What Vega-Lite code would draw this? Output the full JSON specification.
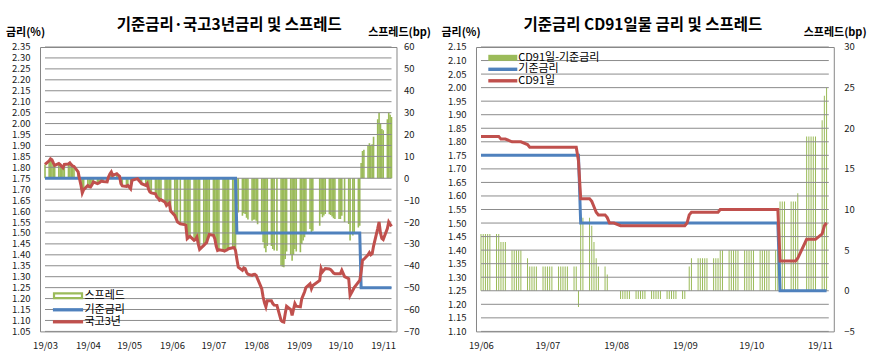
{
 "$schema": "https://vega.github.io/schema/vega-lite/v6.json",
 "autosize": {"type": "pad"},
 "padding": {"left": 5, "top": 18, "right": 2, "bottom": 2},
 "background": "white",
 "spacing": 79,
 "bounds": "flush",
 "datasets": {
  "GL": [
   {"g":1.05,"d":"2019-03-01"},{"g":1.05,"d":"2019-11-07"},{"g":1.1,"d":"2019-03-01"},{"g":1.1,"d":"2019-11-07"},{"g":1.15,"d":"2019-03-01"},{"g":1.15,"d":"2019-11-07"},
   {"g":1.2,"d":"2019-03-01"},{"g":1.2,"d":"2019-11-07"},{"g":1.25,"d":"2019-03-01"},{"g":1.25,"d":"2019-11-07"},{"g":1.3,"d":"2019-03-01"},{"g":1.3,"d":"2019-11-07"},
   {"g":1.35,"d":"2019-03-01"},{"g":1.35,"d":"2019-11-07"},{"g":1.4,"d":"2019-03-01"},{"g":1.4,"d":"2019-11-07"},{"g":1.45,"d":"2019-03-01"},{"g":1.45,"d":"2019-11-07"},
   {"g":1.5,"d":"2019-03-01"},{"g":1.5,"d":"2019-11-07"},{"g":1.55,"d":"2019-03-01"},{"g":1.55,"d":"2019-11-07"},{"g":1.6,"d":"2019-03-01"},{"g":1.6,"d":"2019-11-07"},
   {"g":1.65,"d":"2019-03-01"},{"g":1.65,"d":"2019-11-07"},{"g":1.7,"d":"2019-03-01"},{"g":1.7,"d":"2019-11-07"},{"g":1.75,"d":"2019-03-01"},{"g":1.75,"d":"2019-11-07"},
   {"g":1.8,"d":"2019-03-01"},{"g":1.8,"d":"2019-11-07"},{"g":1.85,"d":"2019-03-01"},{"g":1.85,"d":"2019-11-07"},{"g":1.9,"d":"2019-03-01"},{"g":1.9,"d":"2019-11-07"},
   {"g":1.95,"d":"2019-03-01"},{"g":1.95,"d":"2019-11-07"},{"g":2.0,"d":"2019-03-01"},{"g":2.0,"d":"2019-11-07"},{"g":2.05,"d":"2019-03-01"},{"g":2.05,"d":"2019-11-07"},
   {"g":2.1,"d":"2019-03-01"},{"g":2.1,"d":"2019-11-07"},{"g":2.15,"d":"2019-03-01"},{"g":2.15,"d":"2019-11-07"},{"g":2.2,"d":"2019-03-01"},{"g":2.2,"d":"2019-11-07"},
   {"g":2.25,"d":"2019-03-01"},{"g":2.25,"d":"2019-11-07"},{"g":2.3,"d":"2019-03-01"},{"g":2.3,"d":"2019-11-07"},{"g":2.35,"d":"2019-03-01"},{"g":2.35,"d":"2019-11-07"}
  ],
  "GR": [
   {"g":1.1,"d":"2019-06-03"},{"g":1.1,"d":"2019-11-07"},{"g":1.15,"d":"2019-06-03"},{"g":1.15,"d":"2019-11-07"},{"g":1.2,"d":"2019-06-03"},{"g":1.2,"d":"2019-11-07"},
   {"g":1.25,"d":"2019-06-03"},{"g":1.25,"d":"2019-11-07"},{"g":1.3,"d":"2019-06-03"},{"g":1.3,"d":"2019-11-07"},{"g":1.35,"d":"2019-06-03"},{"g":1.35,"d":"2019-11-07"},
   {"g":1.4,"d":"2019-06-03"},{"g":1.4,"d":"2019-11-07"},{"g":1.45,"d":"2019-06-03"},{"g":1.45,"d":"2019-11-07"},{"g":1.5,"d":"2019-06-03"},{"g":1.5,"d":"2019-11-07"},
   {"g":1.55,"d":"2019-06-03"},{"g":1.55,"d":"2019-11-07"},{"g":1.6,"d":"2019-06-03"},{"g":1.6,"d":"2019-11-07"},{"g":1.65,"d":"2019-06-03"},{"g":1.65,"d":"2019-11-07"},
   {"g":1.7,"d":"2019-06-03"},{"g":1.7,"d":"2019-11-07"},{"g":1.75,"d":"2019-06-03"},{"g":1.75,"d":"2019-11-07"},{"g":1.8,"d":"2019-06-03"},{"g":1.8,"d":"2019-11-07"},
   {"g":1.85,"d":"2019-06-03"},{"g":1.85,"d":"2019-11-07"},{"g":1.9,"d":"2019-06-03"},{"g":1.9,"d":"2019-11-07"},{"g":1.95,"d":"2019-06-03"},{"g":1.95,"d":"2019-11-07"},
   {"g":2.0,"d":"2019-06-03"},{"g":2.0,"d":"2019-11-07"},{"g":2.05,"d":"2019-06-03"},{"g":2.05,"d":"2019-11-07"},{"g":2.1,"d":"2019-06-03"},{"g":2.1,"d":"2019-11-07"},
   {"g":2.15,"d":"2019-06-03"},{"g":2.15,"d":"2019-11-07"}
  ],
  "L": [
   {"date":"2019-03-01","base":1.75,"ktb":1.813,"spread":6.3},
   {"date":"2019-03-04","base":1.75,"ktb":1.830,"spread":8.0},
   {"date":"2019-03-05","base":1.75,"ktb":1.839,"spread":8.9},
   {"date":"2019-03-06","base":1.75,"ktb":1.835,"spread":8.5},
   {"date":"2019-03-07","base":1.75,"ktb":1.820,"spread":7.0},
   {"date":"2019-03-08","base":1.75,"ktb":1.809,"spread":5.9},
   {"date":"2019-03-11","base":1.75,"ktb":1.817,"spread":6.7},
   {"date":"2019-03-12","base":1.75,"ktb":1.812,"spread":6.2},
   {"date":"2019-03-13","base":1.75,"ktb":1.805,"spread":5.5},
   {"date":"2019-03-14","base":1.75,"ktb":1.798,"spread":4.8},
   {"date":"2019-03-15","base":1.75,"ktb":1.813,"spread":6.3},
   {"date":"2019-03-18","base":1.75,"ktb":1.815,"spread":6.5},
   {"date":"2019-03-19","base":1.75,"ktb":1.820,"spread":7.0},
   {"date":"2019-03-20","base":1.75,"ktb":1.812,"spread":6.2},
   {"date":"2019-03-21","base":1.75,"ktb":1.806,"spread":5.6},
   {"date":"2019-03-22","base":1.75,"ktb":1.804,"spread":5.4},
   {"date":"2019-03-25","base":1.75,"ktb":1.779,"spread":2.9},
   {"date":"2019-03-26","base":1.75,"ktb":1.748,"spread":-0.2},
   {"date":"2019-03-27","base":1.75,"ktb":1.720,"spread":-3.0},
   {"date":"2019-03-28","base":1.75,"ktb":1.683,"spread":-6.7},
   {"date":"2019-03-29","base":1.75,"ktb":1.698,"spread":-5.2},
   {"date":"2019-04-01","base":1.75,"ktb":1.717,"spread":-3.3},
   {"date":"2019-04-02","base":1.75,"ktb":1.712,"spread":-3.8},
   {"date":"2019-04-03","base":1.75,"ktb":1.710,"spread":-4.0},
   {"date":"2019-04-04","base":1.75,"ktb":1.720,"spread":-3.0},
   {"date":"2019-04-05","base":1.75,"ktb":1.733,"spread":-1.7},
   {"date":"2019-04-08","base":1.75,"ktb":1.725,"spread":-2.5},
   {"date":"2019-04-09","base":1.75,"ktb":1.728,"spread":-2.2},
   {"date":"2019-04-10","base":1.75,"ktb":1.733,"spread":-1.7},
   {"date":"2019-04-11","base":1.75,"ktb":1.737,"spread":-1.3},
   {"date":"2019-04-12","base":1.75,"ktb":1.735,"spread":-1.5},
   {"date":"2019-04-15","base":1.75,"ktb":1.733,"spread":-1.7},
   {"date":"2019-04-16","base":1.75,"ktb":1.756,"spread":0.6},
   {"date":"2019-04-17","base":1.75,"ktb":1.770,"spread":2.0},
   {"date":"2019-04-18","base":1.75,"ktb":1.779,"spread":2.9},
   {"date":"2019-04-19","base":1.75,"ktb":1.763,"spread":1.3},
   {"date":"2019-04-22","base":1.75,"ktb":1.771,"spread":2.1},
   {"date":"2019-04-23","base":1.75,"ktb":1.765,"spread":1.5},
   {"date":"2019-04-24","base":1.75,"ktb":1.759,"spread":0.9},
   {"date":"2019-04-25","base":1.75,"ktb":1.725,"spread":-2.5},
   {"date":"2019-04-26","base":1.75,"ktb":1.715,"spread":-3.5},
   {"date":"2019-04-29","base":1.75,"ktb":1.713,"spread":-3.7},
   {"date":"2019-04-30","base":1.75,"ktb":1.717,"spread":-3.3},
   {"date":"2019-05-02","base":1.75,"ktb":1.702,"spread":-4.8},
   {"date":"2019-05-03","base":1.75,"ktb":1.740,"spread":-1.0},
   {"date":"2019-05-07","base":1.75,"ktb":1.748,"spread":-0.2},
   {"date":"2019-05-08","base":1.75,"ktb":1.740,"spread":-1.0},
   {"date":"2019-05-09","base":1.75,"ktb":1.733,"spread":-1.7},
   {"date":"2019-05-10","base":1.75,"ktb":1.725,"spread":-2.5},
   {"date":"2019-05-13","base":1.75,"ktb":1.717,"spread":-3.3},
   {"date":"2019-05-14","base":1.75,"ktb":1.725,"spread":-2.5},
   {"date":"2019-05-15","base":1.75,"ktb":1.700,"spread":-5.0},
   {"date":"2019-05-16","base":1.75,"ktb":1.687,"spread":-6.3},
   {"date":"2019-05-17","base":1.75,"ktb":1.683,"spread":-6.7},
   {"date":"2019-05-20","base":1.75,"ktb":1.679,"spread":-7.1},
   {"date":"2019-05-21","base":1.75,"ktb":1.664,"spread":-8.6},
   {"date":"2019-05-22","base":1.75,"ktb":1.660,"spread":-9.0},
   {"date":"2019-05-23","base":1.75,"ktb":1.649,"spread":-10.1},
   {"date":"2019-05-24","base":1.75,"ktb":1.652,"spread":-9.8},
   {"date":"2019-05-27","base":1.75,"ktb":1.640,"spread":-11.0},
   {"date":"2019-05-28","base":1.75,"ktb":1.626,"spread":-12.4},
   {"date":"2019-05-29","base":1.75,"ktb":1.632,"spread":-11.8},
   {"date":"2019-05-30","base":1.75,"ktb":1.637,"spread":-11.3},
   {"date":"2019-05-31","base":1.75,"ktb":1.600,"spread":-15.0},
   {"date":"2019-06-03","base":1.75,"ktb":1.580,"spread":-17.0},
   {"date":"2019-06-04","base":1.75,"ktb":1.565,"spread":-18.5},
   {"date":"2019-06-05","base":1.75,"ktb":1.550,"spread":-20.0},
   {"date":"2019-06-07","base":1.75,"ktb":1.542,"spread":-20.8},
   {"date":"2019-06-10","base":1.75,"ktb":1.538,"spread":-21.2},
   {"date":"2019-06-11","base":1.75,"ktb":1.535,"spread":-21.5},
   {"date":"2019-06-12","base":1.75,"ktb":1.474,"spread":-27.6},
   {"date":"2019-06-13","base":1.75,"ktb":1.480,"spread":-27.0},
   {"date":"2019-06-14","base":1.75,"ktb":1.484,"spread":-26.6},
   {"date":"2019-06-17","base":1.75,"ktb":1.466,"spread":-28.4},
   {"date":"2019-06-18","base":1.75,"ktb":1.470,"spread":-28.0},
   {"date":"2019-06-19","base":1.75,"ktb":1.481,"spread":-26.9},
   {"date":"2019-06-20","base":1.75,"ktb":1.450,"spread":-30.0},
   {"date":"2019-06-21","base":1.75,"ktb":1.425,"spread":-32.5},
   {"date":"2019-06-24","base":1.75,"ktb":1.443,"spread":-30.7},
   {"date":"2019-06-25","base":1.75,"ktb":1.450,"spread":-30.0},
   {"date":"2019-06-26","base":1.75,"ktb":1.455,"spread":-29.5},
   {"date":"2019-06-27","base":1.75,"ktb":1.475,"spread":-27.5},
   {"date":"2019-06-28","base":1.75,"ktb":1.493,"spread":-25.7},
   {"date":"2019-07-01","base":1.75,"ktb":1.489,"spread":-26.1},
   {"date":"2019-07-02","base":1.75,"ktb":1.474,"spread":-27.6},
   {"date":"2019-07-03","base":1.75,"ktb":1.440,"spread":-31.0},
   {"date":"2019-07-04","base":1.75,"ktb":1.420,"spread":-33.0},
   {"date":"2019-07-05","base":1.75,"ktb":1.423,"spread":-32.7},
   {"date":"2019-07-08","base":1.75,"ktb":1.420,"spread":-33.0},
   {"date":"2019-07-09","base":1.75,"ktb":1.417,"spread":-33.3},
   {"date":"2019-07-10","base":1.75,"ktb":1.420,"spread":-33.0},
   {"date":"2019-07-11","base":1.75,"ktb":1.423,"spread":-32.7},
   {"date":"2019-07-12","base":1.75,"ktb":1.428,"spread":-32.2},
   {"date":"2019-07-15","base":1.75,"ktb":1.432,"spread":-31.8},
   {"date":"2019-07-16","base":1.75,"ktb":1.433,"spread":-31.7},
   {"date":"2019-07-17","base":1.75,"ktb":1.420,"spread":-33.0},
   {"date":"2019-07-18","base":1.50,"ktb":1.380,"spread":-12.0},
   {"date":"2019-07-19","base":1.50,"ktb":1.344,"spread":-15.6},
   {"date":"2019-07-22","base":1.50,"ktb":1.329,"spread":-17.1},
   {"date":"2019-07-23","base":1.50,"ktb":1.340,"spread":-16.0},
   {"date":"2019-07-24","base":1.50,"ktb":1.337,"spread":-16.3},
   {"date":"2019-07-25","base":1.50,"ktb":1.320,"spread":-18.0},
   {"date":"2019-07-26","base":1.50,"ktb":1.311,"spread":-18.9},
   {"date":"2019-07-29","base":1.50,"ktb":1.306,"spread":-19.4},
   {"date":"2019-07-30","base":1.50,"ktb":1.310,"spread":-19.0},
   {"date":"2019-07-31","base":1.50,"ktb":1.311,"spread":-18.9},
   {"date":"2019-08-01","base":1.50,"ktb":1.306,"spread":-19.4},
   {"date":"2019-08-02","base":1.50,"ktb":1.290,"spread":-21.0},
   {"date":"2019-08-05","base":1.50,"ktb":1.245,"spread":-25.5},
   {"date":"2019-08-06","base":1.50,"ktb":1.207,"spread":-29.3},
   {"date":"2019-08-07","base":1.50,"ktb":1.180,"spread":-32.0},
   {"date":"2019-08-08","base":1.50,"ktb":1.162,"spread":-33.8},
   {"date":"2019-08-09","base":1.50,"ktb":1.190,"spread":-31.0},
   {"date":"2019-08-12","base":1.50,"ktb":1.190,"spread":-31.0},
   {"date":"2019-08-13","base":1.50,"ktb":1.177,"spread":-32.3},
   {"date":"2019-08-14","base":1.50,"ktb":1.170,"spread":-33.0},
   {"date":"2019-08-16","base":1.50,"ktb":1.169,"spread":-33.1},
   {"date":"2019-08-19","base":1.50,"ktb":1.100,"spread":-40.0},
   {"date":"2019-08-20","base":1.50,"ktb":1.095,"spread":-40.5},
   {"date":"2019-08-21","base":1.50,"ktb":1.093,"spread":-40.7},
   {"date":"2019-08-22","base":1.50,"ktb":1.131,"spread":-36.9},
   {"date":"2019-08-23","base":1.50,"ktb":1.165,"spread":-33.5},
   {"date":"2019-08-26","base":1.50,"ktb":1.150,"spread":-35.0},
   {"date":"2019-08-27","base":1.50,"ktb":1.123,"spread":-37.7},
   {"date":"2019-08-28","base":1.50,"ktb":1.150,"spread":-35.0},
   {"date":"2019-08-29","base":1.50,"ktb":1.177,"spread":-32.3},
   {"date":"2019-08-30","base":1.50,"ktb":1.165,"spread":-33.5},
   {"date":"2019-09-02","base":1.50,"ktb":1.162,"spread":-33.8},
   {"date":"2019-09-03","base":1.50,"ktb":1.200,"spread":-30.0},
   {"date":"2019-09-04","base":1.50,"ktb":1.215,"spread":-28.5},
   {"date":"2019-09-05","base":1.50,"ktb":1.230,"spread":-27.0},
   {"date":"2019-09-06","base":1.50,"ktb":1.250,"spread":-25.0},
   {"date":"2019-09-09","base":1.50,"ktb":1.268,"spread":-23.2},
   {"date":"2019-09-10","base":1.50,"ktb":1.245,"spread":-25.5},
   {"date":"2019-09-11","base":1.50,"ktb":1.260,"spread":-24.0},
   {"date":"2019-09-16","base":1.50,"ktb":1.283,"spread":-21.7},
   {"date":"2019-09-17","base":1.50,"ktb":1.337,"spread":-16.3},
   {"date":"2019-09-18","base":1.50,"ktb":1.322,"spread":-17.8},
   {"date":"2019-09-19","base":1.50,"ktb":1.330,"spread":-17.0},
   {"date":"2019-09-20","base":1.50,"ktb":1.337,"spread":-16.3},
   {"date":"2019-09-23","base":1.50,"ktb":1.335,"spread":-16.5},
   {"date":"2019-09-24","base":1.50,"ktb":1.332,"spread":-16.8},
   {"date":"2019-09-25","base":1.50,"ktb":1.325,"spread":-17.5},
   {"date":"2019-09-26","base":1.50,"ktb":1.317,"spread":-18.3},
   {"date":"2019-09-27","base":1.50,"ktb":1.314,"spread":-18.6},
   {"date":"2019-09-30","base":1.50,"ktb":1.314,"spread":-18.6},
   {"date":"2019-10-01","base":1.50,"ktb":1.314,"spread":-18.6},
   {"date":"2019-10-02","base":1.50,"ktb":1.329,"spread":-17.1},
   {"date":"2019-10-04","base":1.50,"ktb":1.300,"spread":-20.0},
   {"date":"2019-10-07","base":1.50,"ktb":1.291,"spread":-20.9},
   {"date":"2019-10-08","base":1.50,"ktb":1.215,"spread":-28.5},
   {"date":"2019-10-10","base":1.50,"ktb":1.238,"spread":-26.2},
   {"date":"2019-10-11","base":1.50,"ktb":1.250,"spread":-25.0},
   {"date":"2019-10-14","base":1.50,"ktb":1.275,"spread":-22.5},
   {"date":"2019-10-15","base":1.50,"ktb":1.283,"spread":-21.7},
   {"date":"2019-10-16","base":1.25,"ktb":1.320,"spread":7.0},
   {"date":"2019-10-17","base":1.25,"ktb":1.375,"spread":12.5},
   {"date":"2019-10-18","base":1.25,"ktb":1.380,"spread":13.0},
   {"date":"2019-10-21","base":1.25,"ktb":1.400,"spread":15.0},
   {"date":"2019-10-22","base":1.25,"ktb":1.410,"spread":16.0},
   {"date":"2019-10-23","base":1.25,"ktb":1.400,"spread":15.0},
   {"date":"2019-10-24","base":1.25,"ktb":1.405,"spread":15.5},
   {"date":"2019-10-25","base":1.25,"ktb":1.440,"spread":19.0},
   {"date":"2019-10-28","base":1.25,"ktb":1.520,"spread":27.0},
   {"date":"2019-10-29","base":1.25,"ktb":1.550,"spread":30.0},
   {"date":"2019-10-30","base":1.25,"ktb":1.500,"spread":25.0},
   {"date":"2019-10-31","base":1.25,"ktb":1.475,"spread":22.5},
   {"date":"2019-11-01","base":1.25,"ktb":1.470,"spread":22.0},
   {"date":"2019-11-04","base":1.25,"ktb":1.520,"spread":27.0},
   {"date":"2019-11-05","base":1.25,"ktb":1.550,"spread":30.0},
   {"date":"2019-11-06","base":1.25,"ktb":1.540,"spread":29.0},
   {"date":"2019-11-07","base":1.25,"ktb":1.530,"spread":28.0}
  ],
  "R": [
   {"date":"2019-06-03","base":1.75,"cd":1.82,"spread":7},
   {"date":"2019-06-04","base":1.75,"cd":1.82,"spread":7},
   {"date":"2019-06-05","base":1.75,"cd":1.82,"spread":7},
   {"date":"2019-06-06","base":1.75,"cd":1.82,"spread":7},
   {"date":"2019-06-07","base":1.75,"cd":1.82,"spread":7},
   {"date":"2019-06-10","base":1.75,"cd":1.82,"spread":7},
   {"date":"2019-06-11","base":1.75,"cd":1.82,"spread":7},
   {"date":"2019-06-12","base":1.75,"cd":1.81,"spread":6},
   {"date":"2019-06-13","base":1.75,"cd":1.81,"spread":6},
   {"date":"2019-06-14","base":1.75,"cd":1.81,"spread":6},
   {"date":"2019-06-17","base":1.75,"cd":1.80,"spread":5},
   {"date":"2019-06-18","base":1.75,"cd":1.80,"spread":5},
   {"date":"2019-06-19","base":1.75,"cd":1.80,"spread":5},
   {"date":"2019-06-20","base":1.75,"cd":1.80,"spread":5},
   {"date":"2019-06-21","base":1.75,"cd":1.80,"spread":5},
   {"date":"2019-06-24","base":1.75,"cd":1.79,"spread":4},
   {"date":"2019-06-25","base":1.75,"cd":1.78,"spread":3},
   {"date":"2019-06-26","base":1.75,"cd":1.78,"spread":3},
   {"date":"2019-06-27","base":1.75,"cd":1.78,"spread":3},
   {"date":"2019-06-28","base":1.75,"cd":1.78,"spread":3},
   {"date":"2019-07-01","base":1.75,"cd":1.78,"spread":3},
   {"date":"2019-07-02","base":1.75,"cd":1.78,"spread":3},
   {"date":"2019-07-03","base":1.75,"cd":1.78,"spread":3},
   {"date":"2019-07-04","base":1.75,"cd":1.78,"spread":3},
   {"date":"2019-07-05","base":1.75,"cd":1.78,"spread":3},
   {"date":"2019-07-08","base":1.75,"cd":1.78,"spread":3},
   {"date":"2019-07-09","base":1.75,"cd":1.78,"spread":3},
   {"date":"2019-07-10","base":1.75,"cd":1.78,"spread":3},
   {"date":"2019-07-11","base":1.75,"cd":1.78,"spread":3},
   {"date":"2019-07-12","base":1.75,"cd":1.78,"spread":3},
   {"date":"2019-07-15","base":1.75,"cd":1.78,"spread":3},
   {"date":"2019-07-16","base":1.75,"cd":1.78,"spread":3},
   {"date":"2019-07-17","base":1.75,"cd":1.73,"spread":-2},
   {"date":"2019-07-18","base":1.50,"cd":1.59,"spread":9},
   {"date":"2019-07-19","base":1.50,"cd":1.59,"spread":9},
   {"date":"2019-07-22","base":1.50,"cd":1.59,"spread":9},
   {"date":"2019-07-23","base":1.50,"cd":1.58,"spread":8},
   {"date":"2019-07-24","base":1.50,"cd":1.56,"spread":6},
   {"date":"2019-07-25","base":1.50,"cd":1.54,"spread":4},
   {"date":"2019-07-26","base":1.50,"cd":1.53,"spread":3},
   {"date":"2019-07-29","base":1.50,"cd":1.53,"spread":3},
   {"date":"2019-07-30","base":1.50,"cd":1.52,"spread":2},
   {"date":"2019-07-31","base":1.50,"cd":1.50,"spread":0},
   {"date":"2019-08-01","base":1.50,"cd":1.50,"spread":0},
   {"date":"2019-08-02","base":1.50,"cd":1.50,"spread":0},
   {"date":"2019-08-05","base":1.50,"cd":1.49,"spread":-1},
   {"date":"2019-08-06","base":1.50,"cd":1.49,"spread":-1},
   {"date":"2019-08-07","base":1.50,"cd":1.49,"spread":-1},
   {"date":"2019-08-08","base":1.50,"cd":1.49,"spread":-1},
   {"date":"2019-08-09","base":1.50,"cd":1.49,"spread":-1},
   {"date":"2019-08-12","base":1.50,"cd":1.49,"spread":-1},
   {"date":"2019-08-13","base":1.50,"cd":1.49,"spread":-1},
   {"date":"2019-08-14","base":1.50,"cd":1.49,"spread":-1},
   {"date":"2019-08-15","base":1.50,"cd":1.49,"spread":-1},
   {"date":"2019-08-16","base":1.50,"cd":1.49,"spread":-1},
   {"date":"2019-08-19","base":1.50,"cd":1.49,"spread":-1},
   {"date":"2019-08-20","base":1.50,"cd":1.49,"spread":-1},
   {"date":"2019-08-21","base":1.50,"cd":1.49,"spread":-1},
   {"date":"2019-08-22","base":1.50,"cd":1.49,"spread":-1},
   {"date":"2019-08-23","base":1.50,"cd":1.49,"spread":-1},
   {"date":"2019-08-26","base":1.50,"cd":1.49,"spread":-1},
   {"date":"2019-08-27","base":1.50,"cd":1.49,"spread":-1},
   {"date":"2019-08-28","base":1.50,"cd":1.49,"spread":-1},
   {"date":"2019-08-29","base":1.50,"cd":1.49,"spread":-1},
   {"date":"2019-08-30","base":1.50,"cd":1.49,"spread":-1},
   {"date":"2019-09-02","base":1.50,"cd":1.49,"spread":-1},
   {"date":"2019-09-03","base":1.50,"cd":1.49,"spread":-1},
   {"date":"2019-09-04","base":1.50,"cd":1.50,"spread":0},
   {"date":"2019-09-05","base":1.50,"cd":1.53,"spread":3},
   {"date":"2019-09-06","base":1.50,"cd":1.54,"spread":4},
   {"date":"2019-09-09","base":1.50,"cd":1.54,"spread":4},
   {"date":"2019-09-10","base":1.50,"cd":1.54,"spread":4},
   {"date":"2019-09-11","base":1.50,"cd":1.54,"spread":4},
   {"date":"2019-09-12","base":1.50,"cd":1.54,"spread":4},
   {"date":"2019-09-13","base":1.50,"cd":1.54,"spread":4},
   {"date":"2019-09-16","base":1.50,"cd":1.54,"spread":4},
   {"date":"2019-09-17","base":1.50,"cd":1.54,"spread":4},
   {"date":"2019-09-18","base":1.50,"cd":1.54,"spread":4},
   {"date":"2019-09-19","base":1.50,"cd":1.55,"spread":5},
   {"date":"2019-09-20","base":1.50,"cd":1.55,"spread":5},
   {"date":"2019-09-23","base":1.50,"cd":1.55,"spread":5},
   {"date":"2019-09-24","base":1.50,"cd":1.55,"spread":5},
   {"date":"2019-09-25","base":1.50,"cd":1.55,"spread":5},
   {"date":"2019-09-26","base":1.50,"cd":1.55,"spread":5},
   {"date":"2019-09-27","base":1.50,"cd":1.55,"spread":5},
   {"date":"2019-09-30","base":1.50,"cd":1.55,"spread":5},
   {"date":"2019-10-01","base":1.50,"cd":1.55,"spread":5},
   {"date":"2019-10-02","base":1.50,"cd":1.55,"spread":5},
   {"date":"2019-10-03","base":1.50,"cd":1.55,"spread":5},
   {"date":"2019-10-04","base":1.50,"cd":1.55,"spread":5},
   {"date":"2019-10-07","base":1.50,"cd":1.55,"spread":5},
   {"date":"2019-10-08","base":1.50,"cd":1.55,"spread":5},
   {"date":"2019-10-09","base":1.50,"cd":1.55,"spread":5},
   {"date":"2019-10-10","base":1.50,"cd":1.55,"spread":5},
   {"date":"2019-10-11","base":1.50,"cd":1.55,"spread":5},
   {"date":"2019-10-14","base":1.50,"cd":1.55,"spread":5},
   {"date":"2019-10-15","base":1.50,"cd":1.55,"spread":5},
   {"date":"2019-10-16","base":1.25,"cd":1.36,"spread":11},
   {"date":"2019-10-17","base":1.25,"cd":1.36,"spread":11},
   {"date":"2019-10-18","base":1.25,"cd":1.36,"spread":11},
   {"date":"2019-10-21","base":1.25,"cd":1.36,"spread":11},
   {"date":"2019-10-22","base":1.25,"cd":1.36,"spread":11},
   {"date":"2019-10-23","base":1.25,"cd":1.36,"spread":11},
   {"date":"2019-10-24","base":1.25,"cd":1.37,"spread":12},
   {"date":"2019-10-28","base":1.25,"cd":1.44,"spread":19},
   {"date":"2019-10-29","base":1.25,"cd":1.44,"spread":19},
   {"date":"2019-10-30","base":1.25,"cd":1.44,"spread":19},
   {"date":"2019-10-31","base":1.25,"cd":1.44,"spread":19},
   {"date":"2019-11-01","base":1.25,"cd":1.44,"spread":19},
   {"date":"2019-11-04","base":1.25,"cd":1.46,"spread":21},
   {"date":"2019-11-05","base":1.25,"cd":1.49,"spread":24},
   {"date":"2019-11-06","base":1.25,"cd":1.50,"spread":25}
  ]
 },
 "hconcat": [
  {
   "width": 356.5,
   "height": 284.4,
   "title": {"text": "기준금리·국고3년금리 및 스프레드", "dx": 11, "offset": -7},
   "layer": [
    {
     "data": {"name": "L"},
     "mark": {"type": "bar", "color": "#9BBB59", "size": 1.6, "clip": true},
     "encoding": {
      "x": {"field": "date", "type": "temporal", "title": null,
            "scale": {"type": "utc", "domain": [{"year": 2019, "month": 3, "date": 1, "utc": true}, {"year": 2019, "month": 11, "date": 7, "utc": true}]},
            "axis": {"values": [{"year": 2019, "month": 3, "date": 1, "utc": true}, {"year": 2019, "month": 4, "date": 1, "utc": true}, {"year": 2019, "month": 5, "date": 1, "utc": true}, {"year": 2019, "month": 6, "date": 1, "utc": true}, {"year": 2019, "month": 7, "date": 1, "utc": true}, {"year": 2019, "month": 8, "date": 1, "utc": true}, {"year": 2019, "month": 9, "date": 1, "utc": true}, {"year": 2019, "month": 10, "date": 1, "utc": true}, {"year": 2019, "month": 11, "date": 1, "utc": true}],
                     "format": "%y/%m", "labelFlush": false, "labelOverlap": false, "ticks": false, "labelPadding": 9, "grid": false, "title": null}},
      "y": {"field": "spread", "type": "quantitative",
            "scale": {"domain": [-70, 60], "nice": false, "zero": false},
            "axis": {"orient": "right", "values": [-70, -60, -50, -40, -30, -20, -10, 0, 10, 20, 30, 40, 50, 60], "format": "d", "labelPadding": 7, "grid": false, "labelOverlap": false,
                     "title": "스프레드(bp)", "titleAngle": 0, "titleX": 34, "titleY": -14, "titleAlign": "right", "titleBaseline": "middle"}}
     }
    },
    {
     "data": {"name": "GL"},
     "mark": {"type": "line", "color": "#8c8c8c", "strokeWidth": 1},
     "encoding": {
      "x": {"field": "d", "type": "temporal", "title": null},
      "y": {"field": "g", "type": "quantitative", "scale": {"domain": [1.05, 2.35], "nice": false, "zero": false}, "axis": null},
      "detail": {"field": "g", "type": "nominal"}
     }
    },
    {
     "data": {"name": "L"},
     "mark": {"type": "line", "color": "#4F81BD", "strokeWidth": 3, "clip": true},
     "encoding": {
      "x": {"field": "date", "type": "temporal", "title": null},
      "y": {"field": "base", "type": "quantitative",
            "scale": {"domain": [1.05, 2.35], "nice": false, "zero": false},
            "axis": {"orient": "left", "values": [1.05, 1.1, 1.15, 1.2, 1.25, 1.3, 1.35, 1.4, 1.45, 1.5, 1.55, 1.6, 1.65, 1.7, 1.75, 1.8, 1.85, 1.9, 1.95, 2.0, 2.05, 2.1, 2.15, 2.2, 2.25, 2.3, 2.35],
                     "format": ".2f", "grid": false, "labelPadding": 10, "labelOverlap": false,
                     "title": "금리(%)", "titleAngle": 0, "titleX": -34.5, "titleY": -14, "titleAlign": "left", "titleBaseline": "middle"}}
     }
    },
    {
     "data": {"name": "L"},
     "mark": {"type": "line", "color": "#C0504D", "strokeWidth": 3, "clip": true},
     "encoding": {
      "x": {"field": "date", "type": "temporal", "title": null},
      "y": {"field": "ktb", "type": "quantitative", "scale": {"domain": [1.05, 2.35], "nice": false, "zero": false}, "axis": null}
     }
    },
    {
     "data": {"values": [{"s": "스프레드"}, {"s": "기준금리"}, {"s": "국고3년"}]},
     "mark": {"type": "point", "opacity": 0, "filled": false},
     "encoding": {
      "color": {"field": "s", "type": "nominal", "title": null,
                "scale": {"domain": ["스프레드", "기준금리", "국고3년"], "range": ["#9BBB59", "#4F81BD", "#C0504D"]},
                "legend": {"orient": "none", "legendX": 21.5, "legendY": 242.3, "symbolSize": 100, "symbolStrokeWidth": 2.2, "symbolOpacity": 1, "labelFontSize": 11, "labelOffset": 10, "rowPadding": -1.5, "padding": 0}},
      "shape": {"field": "s", "type": "nominal", "title": null,
                "scale": {"domain": ["스프레드", "기준금리", "국고3년"], "range": ["M-2.8,-0.48H2.8V0.48H-2.8Z", "M-2.8,-0.11H2.8V0.11H-2.8Z", "M-2.8,-0.11H2.8V0.11H-2.8Z"]},
                "legend": {"orient": "none", "legendX": 21.5, "legendY": 242.3, "symbolSize": 100, "symbolStrokeWidth": 2.2, "symbolOpacity": 1, "labelFontSize": 11, "labelOffset": 10, "rowPadding": -1.5, "padding": 0}}
     }
    }
   ],
   "resolve": {"scale": {"y": "independent"}}
  },
  {
   "width": 357.8,
   "height": 284.4,
   "title": {"text": "기준금리 CD91일물 금리 및 스프레드", "dx": -12, "offset": -7},
   "layer": [
    {
     "data": {"name": "R"},
     "mark": {"type": "bar", "color": "#9BBB59", "size": 1, "clip": true},
     "encoding": {
      "x": {"field": "date", "type": "temporal", "title": null,
            "scale": {"type": "utc", "domain": [{"year": 2019, "month": 6, "date": 3, "utc": true}, {"year": 2019, "month": 11, "date": 7, "utc": true}]},
            "axis": {"values": [{"year": 2019, "month": 6, "date": 3, "utc": true}, {"year": 2019, "month": 7, "date": 3, "utc": true}, {"year": 2019, "month": 8, "date": 3, "utc": true}, {"year": 2019, "month": 9, "date": 3, "utc": true}, {"year": 2019, "month": 10, "date": 3, "utc": true}, {"year": 2019, "month": 11, "date": 3, "utc": true}],
                     "format": "%y/%m", "labelFlush": false, "labelOverlap": false, "ticks": false, "labelPadding": 9, "grid": false, "title": null}},
      "y": {"field": "spread", "type": "quantitative",
            "scale": {"domain": [-5, 30], "nice": false, "zero": false},
            "axis": {"orient": "right", "values": [-5, 0, 5, 10, 15, 20, 25, 30], "format": "d", "labelPadding": 10, "grid": false, "labelOverlap": false,
                     "title": "스프레드(bp)", "titleAngle": 0, "titleX": 32.3, "titleY": -14, "titleAlign": "right", "titleBaseline": "middle"}}
     }
    },
    {
     "data": {"name": "GR"},
     "mark": {"type": "line", "color": "#8c8c8c", "strokeWidth": 1},
     "encoding": {
      "x": {"field": "d", "type": "temporal", "title": null},
      "y": {"field": "g", "type": "quantitative", "scale": {"domain": [1.1, 2.15], "nice": false, "zero": false}, "axis": null},
      "detail": {"field": "g", "type": "nominal"}
     }
    },
    {
     "data": {"name": "R"},
     "mark": {"type": "line", "color": "#4F81BD", "strokeWidth": 3, "clip": true},
     "encoding": {
      "x": {"field": "date", "type": "temporal", "title": null},
      "y": {"field": "base", "type": "quantitative",
            "scale": {"domain": [1.1, 2.15], "nice": false, "zero": false},
            "axis": {"orient": "left", "values": [1.1, 1.15, 1.2, 1.25, 1.3, 1.35, 1.4, 1.45, 1.5, 1.55, 1.6, 1.65, 1.7, 1.75, 1.8, 1.85, 1.9, 1.95, 2.0, 2.05, 2.1, 2.15],
                     "format": ".2f", "grid": false, "labelPadding": 10, "labelOverlap": false,
                     "title": "금리(%)", "titleAngle": 0, "titleX": -35, "titleY": -14, "titleAlign": "left", "titleBaseline": "middle"}}
     }
    },
    {
     "data": {"name": "R"},
     "mark": {"type": "line", "color": "#C0504D", "strokeWidth": 3, "clip": true},
     "encoding": {
      "x": {"field": "date", "type": "temporal", "title": null},
      "y": {"field": "cd", "type": "quantitative", "scale": {"domain": [1.1, 2.15], "nice": false, "zero": false}, "axis": null}
     }
    },
    {
     "data": {"values": [{"s": "CD91일-기준금리"}, {"s": "기준금리"}, {"s": "CD91일"}]},
     "mark": {"type": "point", "opacity": 0, "filled": true},
     "encoding": {
      "color": {"field": "s", "type": "nominal", "title": null,
                "scale": {"domain": ["CD91일-기준금리", "기준금리", "CD91일"], "range": ["#9BBB59", "#4F81BD", "#C0504D"]},
                "legend": {"orient": "none", "legendX": 21.3, "legendY": 5.3, "symbolSize": 100, "symbolStrokeWidth": 0, "symbolOpacity": 1, "labelFontSize": 11, "labelOffset": 10, "rowPadding": -0.5, "padding": 0}},
      "shape": {"field": "s", "type": "nominal", "title": null,
                "scale": {"domain": ["CD91일-기준금리", "기준금리", "CD91일"], "range": ["M-2.9,-0.6H2.9V0.6H-2.9Z", "M-2.9,-0.34H2.9V0.34H-2.9Z", "M-2.9,-0.34H2.9V0.34H-2.9Z"]},
                "legend": {"orient": "none", "legendX": 21.3, "legendY": 5.3, "symbolSize": 100, "symbolStrokeWidth": 0, "symbolOpacity": 1, "labelFontSize": 11, "labelOffset": 10, "rowPadding": -0.5, "padding": 0}}
     }
    }
   ],
   "resolve": {"scale": {"y": "independent"}}
  }
 ],
 "resolve": {"scale": {"color": "independent", "shape": "independent"}, "legend": {"color": "independent", "shape": "independent"}},
 "config": {
  "font": "Noto Sans CJK KR",
  "view": {"stroke": "#868686", "strokeWidth": 1},
  "title": {"font": "Noto Sans CJK KR", "fontSize": 15.5, "fontWeight": "bold", "color": "#000000", "anchor": "middle"},
  "axis": {"labelFont": "Noto Sans CJK KR", "labelFontSize": 9.5, "labelColor": "#1a1a1a", "domain": false, "ticks": false,
           "titleFont": "Noto Sans CJK KR", "titleFontSize": 11, "titleFontWeight": "bold", "titleColor": "#000000"},
  "axisY": {"labelOverlap": false},
  "legend": {"labelFont": "Noto Sans CJK KR", "labelColor": "#000000"}
 }
}
